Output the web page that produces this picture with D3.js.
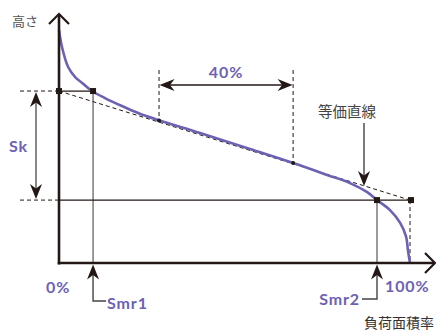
<!DOCTYPE html>
<html><head><meta charset="utf-8">
<script src="https://cdn.jsdelivr.net/npm/d3@7"></script>
<style>body{margin:0;background:#fff;overflow:hidden}</style>
</head><body><svg id="c" width="436" height="332"></svg>
<script>
// Bearing area (Abbott-Firestone) curve: load area ratio (%) vs height (relative units)
const loadPct = [0, 0.85, 2.6, 4.6, 6.6, 9.4, 13.1, 17.9, 22.5, 28.2, 40.2, 54.4, 66.7, 76.4, 82.9, 87.7, 90.6, 94.3, 97.2, 98.9, 99.4, 100];
const heights = [100, 92.7, 84.1, 79.8, 77.3, 73.8, 70.8, 67.4, 64.4, 61.4, 55.8, 48.9, 42.9, 37.8, 34.3, 30.5, 27.0, 22.7, 17.2, 11.2, 5.6, 0];
const smrValues = [9.7, 90.6];          // Smr1, Smr2
const skLevels = [73.8, 27.0];          // upper / lower level of Sk
const equivLine = [[0, 73.8], [100, 27.0]];
const windowPct = [28.5, 66.7];         // the 40% window
const windowHeights = [61.2, 42.9];
const textLabels = {yAxis: "高さ", xAxis: "負荷面積率", sk: "Sk", win: "40%", equiv: "等価直線", zero: "0%", hundred: "100%", smr1: "Smr1", smr2: "Smr2"};

const svg = d3.select("#c");
const x = d3.scaleLinear().domain([0, 100]).range([59, 410]);
const y = d3.scaleLinear().domain([0, 100]).range([263, 30]);

const purple = "#6c62b4", ink = "#231815", thin = "#3a3433";
const boldFont = "Lato, 'DejaVu Sans', sans-serif";
const cjk = "'Noto Sans CJK JP', sans-serif";

function stealth(g, tx, ty, angleDeg, color) {
  g.append("path").attr("d", "M0,0 L-15,-6 L-10.5,0 L-15,6 Z")
    .attr("transform", `translate(${tx},${ty}) rotate(${angleDeg})`)
    .attr("fill", color || ink);
}
const dash = "4,3";

const g = svg.append("g");
skLevels.forEach(h => {
  g.append("line").attr("x1", 20).attr("x2", x(0)).attr("y1", y(h)).attr("y2", y(h))
    .attr("stroke", ink).attr("stroke-width", 1).attr("stroke-dasharray", dash);
});
g.append("line").attr("x1", x(equivLine[0][0])).attr("y1", y(equivLine[0][1]))
  .attr("x2", x(equivLine[1][0])).attr("y2", y(equivLine[1][1]))
  .attr("stroke", ink).attr("stroke-width", 1).attr("stroke-dasharray", dash);
g.append("line").attr("x1", x(100)).attr("x2", x(100)).attr("y1", y(skLevels[1])).attr("y2", y(0))
  .attr("stroke", ink).attr("stroke-width", 1).attr("stroke-dasharray", dash);
windowPct.forEach((p, i) => {
  g.append("line").attr("x1", x(p)).attr("x2", x(p)).attr("y1", 70).attr("y2", y(windowHeights[i]))
    .attr("stroke", ink).attr("stroke-width", 1).attr("stroke-dasharray", dash);
});

g.append("line").attr("x1", x(0)).attr("x2", x(smrValues[0])).attr("y1", y(skLevels[0])).attr("y2", y(skLevels[0]))
  .attr("stroke", ink).attr("stroke-width", 1.3);
g.append("line").attr("x1", x(smrValues[0])).attr("x2", x(smrValues[0])).attr("y1", y(skLevels[0])).attr("y2", y(0))
  .attr("stroke", thin).attr("stroke-width", 1);
g.append("line").attr("x1", x(0)).attr("x2", x(100)).attr("y1", y(skLevels[1])).attr("y2", y(skLevels[1]))
  .attr("stroke", ink).attr("stroke-width", 1.2);
g.append("line").attr("x1", x(smrValues[1])).attr("x2", x(smrValues[1])).attr("y1", y(skLevels[1])).attr("y2", y(0))
  .attr("stroke", thin).attr("stroke-width", 1);

const line = d3.line().x((d, i) => x(loadPct[i])).y((d, i) => y(heights[i])).curve(d3.curveCatmullRom.alpha(0.5));
svg.append("path").datum(heights).attr("d", line).attr("fill", "none")
  .attr("stroke", purple).attr("stroke-width", 2.6);

const ax = svg.append("g");
ax.append("line").attr("x1", x(0)).attr("x2", x(0)).attr("y1", 264.5).attr("y2", 14).attr("stroke", ink).attr("stroke-width", 2.6);
ax.append("line").attr("x1", x(0) - 1.3).attr("x2", 434).attr("y1", y(0)).attr("y2", y(0)).attr("stroke", ink).attr("stroke-width", 2.4);
ax.append("path").attr("d", `M${x(0)-10},24 L${x(0)},14 L${x(0)+10},24`).attr("fill", "none").attr("stroke", ink).attr("stroke-width", 2.2);
ax.append("path").attr("d", `M425,${y(0)-10} L435,${y(0)} L425,${y(0)+10}`).attr("fill", "none").attr("stroke", ink).attr("stroke-width", 2.2);

const sq = [[0, skLevels[0]], [smrValues[0], skLevels[0]], [smrValues[1], skLevels[1]], [equivLine[1][0], equivLine[1][1]]];
svg.selectAll("rect.m").data(sq).join("rect").attr("class", "m")
  .attr("x", d => x(d[0]) - 3 + (d[0] === 100 ? 1 : 0)).attr("y", d => y(d[1]) - 3).attr("width", 6).attr("height", 6).attr("fill", ink);
svg.selectAll("circle.m").data(windowPct).join("circle").attr("class", "m")
  .attr("cx", d => x(d)).attr("cy", (d, i) => y(windowHeights[i])).attr("r", 2).attr("fill", ink);

const skX = 36;
g.append("line").attr("x1", skX).attr("x2", skX).attr("y1", y(skLevels[0]) + 8).attr("y2", y(skLevels[1]) - 8)
  .attr("stroke", "#555").attr("stroke-width", 1.4);
stealth(svg, skX, y(skLevels[0]) + 1, -90);
stealth(svg, skX, y(skLevels[1]) - 1, 90);

const winY = 85;
g.append("line").attr("x1", x(windowPct[0]) + 8).attr("x2", x(windowPct[1]) - 8).attr("y1", winY).attr("y2", winY)
  .attr("stroke", ink).attr("stroke-width", 1.4);
stealth(svg, x(windowPct[0]) + 0.5, winY, 180);
stealth(svg, x(windowPct[1]) - 0.5, winY, 0);

g.append("line").attr("x1", 364).attr("x2", 364).attr("y1", 123).attr("y2", 176).attr("stroke", "#444").attr("stroke-width", 1.4);
stealth(svg, 364, 186, 90);

const s1 = x(smrValues[0]), s2 = x(smrValues[1]);
g.append("path").attr("d", `M${s1},273 L${s1},301 L${s1+13},301`).attr("fill", "none").attr("stroke", "#444").attr("stroke-width", 1.4);
stealth(svg, s1, 264.5, -90);
g.append("path").attr("d", `M${s2},273 L${s2},299 L${s2-15},299`).attr("fill", "none").attr("stroke", "#444").attr("stroke-width", 1.4);
stealth(svg, s2, 264.5, -90);

const t = svg.append("g");
t.append("text").attr("x", 12).attr("y", 25.5).attr("font-family", cjk).attr("font-size", 13).attr("fill", "#555").text(textLabels.yAxis);
t.append("text").attr("x", 434).attr("y", 328).attr("text-anchor", "end").attr("font-family", cjk).attr("font-size", 14).attr("fill", "#333").text(textLabels.xAxis);
t.append("text").attr("x", 347).attr("y", 117).attr("text-anchor", "middle").attr("font-family", cjk).attr("font-size", 14.5).attr("fill", "#444").text(textLabels.equiv);
const bold = (tx, ty, s, anchor) => t.append("text").attr("x", tx).attr("y", ty).attr("text-anchor", anchor || "start")
  .attr("font-family", boldFont).attr("font-weight", "bold").attr("font-size", 16).attr("letter-spacing", 0.9).attr("fill", purple).text(s);
bold(9, 152, textLabels.sk);
bold(226, 78, textLabels.win, "middle");
bold(46, 293, textLabels.zero);
bold(107, 309, textLabels.smr1);
bold(385, 292, textLabels.hundred);
bold(360, 305, textLabels.smr2, "end");
</script></body></html>
